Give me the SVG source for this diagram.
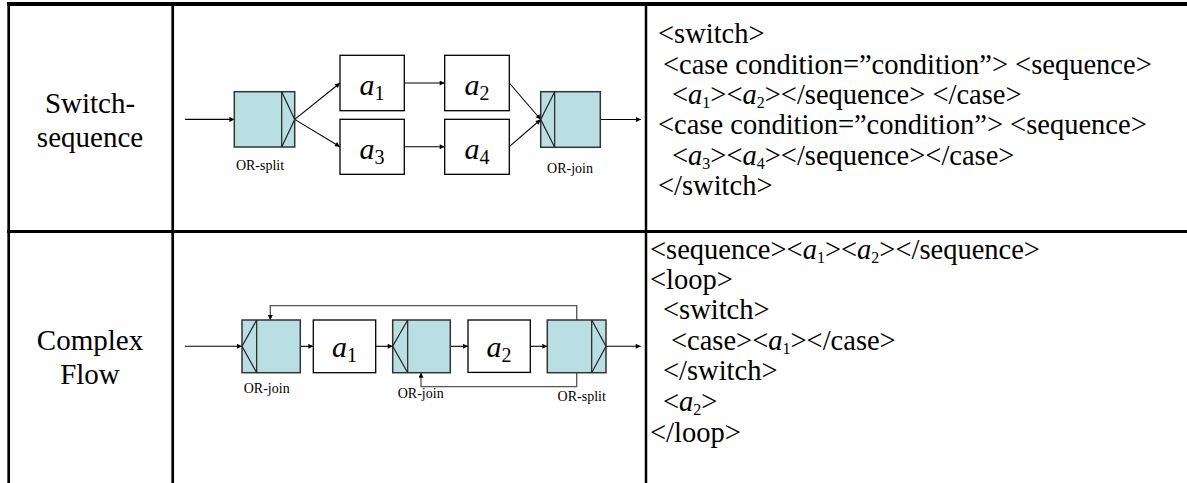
<svg xmlns="http://www.w3.org/2000/svg" width="1187" height="483" viewBox="0 0 1187 483">
<style>
text{font-family:"Liberation Serif","Times New Roman",serif;fill:#000}
.lbl{font-size:29px;text-anchor:middle}
.code{font-size:28.5px}
.i{font-style:italic}
.s{font-size:16px;font-style:normal}
.sm{font-size:14px;text-anchor:middle}
.bx{font-size:30px;font-style:italic;text-anchor:middle}
.sb{font-size:20px;font-style:normal}
.act{fill:#fff;stroke:#000;stroke-width:1.3}
.gw{fill:#badfe3;stroke:#333;stroke-width:1.5}
.gl{fill:none;stroke:#222;stroke-width:1.2}
.ed{fill:none;stroke:#000;stroke-width:1.1;marker-end:url(#ah)}
.lp{fill:none;stroke:#555;stroke-width:1.3;marker-end:url(#ah)}
.grid{stroke:#000;fill:none}
</style>
<defs>
<marker id="ah" viewBox="0 0 10 10" refX="10" refY="5" markerWidth="6" markerHeight="5" markerUnits="userSpaceOnUse" orient="auto">
<path d="M0,0 L10,5 L0,10 z" fill="#000"/>
</marker>
</defs>
<rect x="0" y="0" width="1187" height="483" fill="#fff"/>

<g id="table" class="grid">
<line x1="7" y1="4" x2="1187" y2="4" stroke-width="4"/>
<line x1="8.7" y1="2" x2="8.7" y2="483" stroke-width="2.7"/>
<line x1="172.7" y1="2" x2="172.7" y2="483" stroke-width="2.7"/>
<line x1="646" y1="2" x2="646" y2="483" stroke-width="2.5"/>
<line x1="7" y1="231.5" x2="1187" y2="231.5" stroke-width="3"/>
</g>

<g id="row-labels">
<text class="lbl" x="90" y="112.7">Switch-</text>
<text class="lbl" x="90" y="146.7">sequence</text>
<text class="lbl" x="90" y="350">Complex</text>
<text class="lbl" x="90" y="384.3">Flow</text>
</g>

<g id="connectors">
<path class="ed" d="M185,119.4 H234.3"/>
<path class="ed" d="M294.7,119.4 L340,83"/>
<path class="ed" d="M294.7,119.4 L340,146.7"/>
<path class="ed" d="M404.3,83 H444.7"/>
<path class="ed" d="M404.3,146.7 H444.7"/>
<path class="ed" d="M509.3,83 L540.7,119.5"/>
<path class="ed" d="M509.3,146.7 L540.7,119.5"/>
<path class="ed" d="M600.3,119.5 H641"/>

<path class="ed" d="M185,346.3 H242"/>
<path class="ed" d="M300.3,346.3 H313.3"/>
<path class="ed" d="M375.7,346.3 H392.7"/>
<path class="ed" d="M450.3,346.3 H468"/>
<path class="ed" d="M530.3,346.3 H547.3"/>
<path class="ed" d="M606,346.3 H640.7"/>
<path class="lp" d="M576.7,320 V305.7 H270.3 V320"/>
<path class="lp" d="M576.7,372.7 V386.7 H421 V372.7"/>
</g>

<g id="r1-or-split">
<rect class="gw" x="234.3" y="91.7" width="60.4" height="55.3"/>
<line class="gl" x1="281.7" y1="91.7" x2="281.7" y2="147"/>
<polyline class="gl" points="281.7,91.7 294.7,119.4 281.7,147"/>
<text class="sm" x="260" y="169.5">OR-split</text>
</g>
<g id="r1-a1">
<rect class="act" x="340" y="55.3" width="64.3" height="55.4"/>
<text class="bx" x="372" y="95">a<tspan class="sb" dy="5">1</tspan></text>
</g>
<g id="r1-a3">
<rect class="act" x="340" y="119.3" width="64.3" height="55"/>
<text class="bx" x="372" y="159">a<tspan class="sb" dy="5">3</tspan></text>
</g>
<g id="r1-a2">
<rect class="act" x="444.7" y="55.3" width="64.6" height="55.4"/>
<text class="bx" x="477" y="95">a<tspan class="sb" dy="5">2</tspan></text>
</g>
<g id="r1-a4">
<rect class="act" x="444.7" y="119.3" width="64.6" height="55"/>
<text class="bx" x="477" y="159">a<tspan class="sb" dy="5">4</tspan></text>
</g>
<g id="r1-or-join">
<rect class="gw" x="540.7" y="91.7" width="59.6" height="55.6"/>
<line class="gl" x1="554.7" y1="91.7" x2="554.7" y2="147.3"/>
<polyline class="gl" points="554.7,91.7 540.7,119.5 554.7,147.3"/>
<text class="sm" x="570" y="173">OR-join</text>
</g>

<g id="r2-or-join-1">
<rect class="gw" x="242" y="320" width="58.3" height="52.7"/>
<line class="gl" x1="256.7" y1="320" x2="256.7" y2="372.7"/>
<polyline class="gl" points="256.7,320 242,346.3 256.7,372.7"/>
<text class="sm" x="266.7" y="392.7">OR-join</text>
</g>
<g id="r2-a1">
<rect class="act" x="313.3" y="320" width="62.4" height="52.7"/>
<text class="bx" x="344.5" y="357.3">a<tspan class="sb" dy="5">1</tspan></text>
</g>
<g id="r2-or-join-2">
<rect class="gw" x="392.7" y="320" width="57.6" height="52.7"/>
<line class="gl" x1="407.7" y1="320" x2="407.7" y2="372.7"/>
<polyline class="gl" points="407.7,320 392.7,346.3 407.7,372.7"/>
<text class="sm" x="420.7" y="398.3">OR-join</text>
</g>
<g id="r2-a2">
<rect class="act" x="468" y="320" width="62.3" height="52.4"/>
<text class="bx" x="499" y="357.3">a<tspan class="sb" dy="5">2</tspan></text>
</g>
<g id="r2-or-split">
<rect class="gw" x="547.3" y="320" width="58.7" height="52.7"/>
<line class="gl" x1="591.7" y1="320" x2="591.7" y2="372.7"/>
<polyline class="gl" points="591.7,320 606,346.3 591.7,372.7"/>
<text class="sm" x="581.7" y="400.7">OR-split</text>
</g>

<g id="code-1">
<text class="code" x="658" y="43.3">&lt;switch&gt;</text>
<text class="code" x="663" y="74">&lt;case condition=&#8221;condition&#8221;&gt; &lt;sequence&gt;</text>
<text class="code" x="672" y="104">&lt;<tspan class="i">a</tspan><tspan class="s" dy="4">1</tspan><tspan dy="-4">&gt;&lt;</tspan><tspan class="i">a</tspan><tspan class="s" dy="4">2</tspan><tspan dy="-4">&gt;&lt;/sequence&gt; &lt;/case&gt;</tspan></text>
<text class="code" x="658" y="134.3">&lt;case condition=&#8221;condition&#8221;&gt; &lt;sequence&gt;</text>
<text class="code" x="672" y="165">&lt;<tspan class="i">a</tspan><tspan class="s" dy="4">3</tspan><tspan dy="-4">&gt;&lt;</tspan><tspan class="i">a</tspan><tspan class="s" dy="4">4</tspan><tspan dy="-4">&gt;&lt;/sequence&gt;&lt;/case&gt;</tspan></text>
<text class="code" x="658" y="195">&lt;/switch&gt;</text>
</g>

<g id="code-2">
<text class="code" x="650" y="258.7">&lt;sequence&gt;&lt;<tspan class="i">a</tspan><tspan class="s" dy="4">1</tspan><tspan dy="-4">&gt;&lt;</tspan><tspan class="i">a</tspan><tspan class="s" dy="4">2</tspan><tspan dy="-4">&gt;&lt;/sequence&gt;</tspan></text>
<text class="code" x="650" y="288.7">&lt;loop&gt;</text>
<text class="code" x="663" y="319.3">&lt;switch&gt;</text>
<text class="code" x="671" y="350.3">&lt;case&gt;&lt;<tspan class="i">a</tspan><tspan class="s" dy="4">1</tspan><tspan dy="-4">&gt;&lt;/case&gt;</tspan></text>
<text class="code" x="663" y="380.3">&lt;/switch&gt;</text>
<text class="code" x="663" y="411">&lt;<tspan class="i">a</tspan><tspan class="s" dy="4">2</tspan><tspan dy="-4">&gt;</tspan></text>
<text class="code" x="650" y="442">&lt;/loop&gt;</text>
</g>
</svg>
